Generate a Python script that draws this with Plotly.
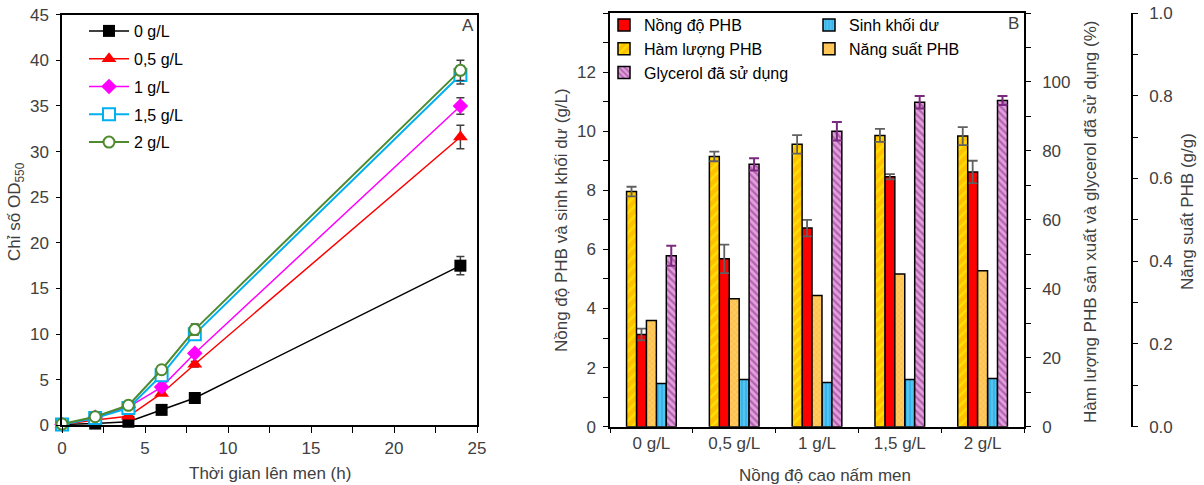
import plotly.graph_objects as go

# ---------------- Panel A data ----------------
time_h = [0, 2, 4, 6, 8, 24]
series_names = ["0 g/L", "0,5 g/L", "1 g/L", "1,5 g/L", "2 g/L"]
od_0 = [0.1, 0.2, 0.4, 1.7, 3.0, 17.5]
od_05 = [0.1, 0.6, 1.0, 3.5, 6.7, 31.6]
od_1 = [0.1, 0.9, 2.0, 4.2, 7.9, 35.0]
od_15 = [0.1, 0.8, 1.9, 5.5, 10.0, 38.4]
od_2 = [0.15, 0.95, 2.2, 6.1, 10.5, 38.9]
err_0 = [0, 0, 0, 0.1, 0.1, 1.0]
err_05 = [0, 0, 0.1, 0.2, 0.3, 1.3]
err_1 = [0, 0, 0.1, 0.2, 0.3, 0.9]
err_15 = [0, 0, 0.1, 0.3, 0.6, 1.0]
err_2 = [0, 0, 0.1, 0.2, 0.6, 1.1]

# ---------------- Panel B data ----------------
groups = ["0 g/L", "0,5 g/L", "1 g/L", "1,5 g/L", "2 g/L"]
phb_conc = [3.12, 5.68, 6.72, 8.46, 8.62]          # g/L
phb_conc_err = [0.2, 0.48, 0.28, 0.09, 0.38]
biomass = [1.46, 1.60, 1.50, 1.60, 1.63]           # g/L
phb_content = [68.2, 78.4, 81.9, 84.5, 84.3]       # %
phb_content_err = [1.4, 1.4, 2.7, 1.9, 2.6]
phb_yield = [0.257, 0.309, 0.317, 0.369, 0.377]    # g/g
glycerol = [49.6, 76.1, 85.7, 94.1, 94.6]          # %
glycerol_err = [2.9, 1.8, 2.7, 1.8, 1.3]

y2_ticks = [0, 2, 4, 6, 8, 10, 12]
y3_ticks = [0, 20, 40, 60, 80, 100]
y4_ticks = [0.0, 0.2, 0.4, 0.6, 0.8, 1.0]

W, H = 1204, 485
FONT = "Liberation Sans, Arial, sans-serif"
TXT = "#404040"

def px(x):
    return x / W

def py(y):
    return (H - y) / H

fig = go.Figure()

# ---------- Panel A traces ----------
styles = [
    dict(color="black", symbol="square", fill="black", lw=1.5, ms=12),
    dict(color="#FF0000", symbol="triangle-up", fill="#FF0000", lw=1.5, ms=13),
    dict(color="#FF00FF", symbol="diamond", fill="#FF00FF", lw=1.5, ms=12),
    dict(color="#00B0F0", symbol="square", fill="white", lw=2, ms=12),
    dict(color="#4E8A2E", symbol="circle", fill="white", lw=2, ms=11),
]
ys = [od_0, od_05, od_1, od_15, od_2]
errs = [err_0, err_05, err_1, err_15, err_2]
for i, (name, y, e, s) in enumerate(zip(series_names, ys, errs, styles)):
    marker = dict(symbol=s["symbol"], size=s["ms"], color=s["fill"],
                  line=dict(color=s["color"], width=2 if s["fill"] == "white" else 0))
    fig.add_trace(go.Scatter(
        x=time_h, y=y, name=name, mode="lines+markers",
        line=dict(color=s["color"], width=s["lw"]),
        marker=marker,
        error_y=dict(type="data", array=e, color="#404040", thickness=1.5, width=4),
        xaxis="x", yaxis="y", legend="legend", legendgroup=f"g{i}",
        cliponaxis=False,
    ))

# ---------- Panel B traces ----------
bw = 0.12
bar_line = dict(color="black", width=1.5)
fig.add_trace(go.Bar(
    x=groups, y=phb_content, name="Hàm lượng PHB", xaxis="x2", yaxis="y3",
    width=bw, offset=-0.30,
    marker=dict(color="#FFC000", line=bar_line,
                pattern=dict(shape="/", fgcolor="#FFFF00", bgcolor="#FFC000", size=7, solidity=0.35)),
    error_y=dict(type="data", array=phb_content_err, color="#606060", thickness=1.8, width=5),
    legend="legend2", legendrank=2,
))
fig.add_trace(go.Bar(
    x=groups, y=phb_conc, name="Nồng độ PHB", xaxis="x2", yaxis="y2",
    width=bw, offset=-0.18,
    marker=dict(color="#FF0000", line=bar_line),
    error_y=dict(type="data", array=phb_conc_err, color="#606060", thickness=1.8, width=5),
    legend="legend2", legendrank=1,
))
fig.add_trace(go.Bar(
    x=groups, y=phb_yield, name="Năng suất PHB", xaxis="x2", yaxis="y4",
    width=bw, offset=-0.06,
    marker=dict(color="#FFC24D", line=bar_line,
                pattern=dict(shape="x", fgcolor="#FFE7B3", bgcolor="#FFC24D", size=4, solidity=0.3)),
    legend="legend3", legendrank=2,
))
fig.add_trace(go.Bar(
    x=groups, y=biomass, name="Sinh khối dư", xaxis="x2", yaxis="y2",
    width=bw, offset=0.06,
    marker=dict(color="#38B6EC", line=bar_line,
                pattern=dict(shape="|", fgcolor="#9BDDF7", bgcolor="#38B6EC", size=4, solidity=0.3)),
    legend="legend3", legendrank=1,
))
fig.add_trace(go.Bar(
    x=groups, y=glycerol, name="Glycerol đã sử dụng", xaxis="x2", yaxis="y3",
    width=bw, offset=0.18,
    marker=dict(color="#E59EDD", line=bar_line,
                pattern=dict(shape="\\", fgcolor="#7A2A7E", bgcolor="#E59EDD", size=5, solidity=0.45)),
    error_y=dict(type="data", array=glycerol_err, color="#7A2A7E", thickness=2, width=5),
    legend="legend2", legendrank=3,
))

axis_common = dict(showline=True, linecolor="black", linewidth=1.5, showgrid=False,
                   zeroline=False, ticks="outside", tickcolor="black", automargin=False,
                   tickfont=dict(family=FONT, size=17, color=TXT))

fig.update_layout(
    width=W, height=H, margin=dict(l=0, r=0, t=0, b=0, autoexpand=False),
    paper_bgcolor="white", plot_bgcolor="white",
    barmode="overlay",
    font=dict(family=FONT, size=17, color=TXT),
    xaxis=dict(domain=[px(62), px(477)], range=[0, 25], dtick=5, ticklen=6,
               mirror=True, anchor="y",
               minor=dict(dtick=2.5, ticks="outside", ticklen=6, tickcolor="black"),
               **axis_common),
    yaxis=dict(domain=[py(425.4), py(14.7)], range=[0, 45], dtick=5, ticklen=4,
               mirror=True, anchor="x", ticklabelstandoff=4, **axis_common),
    xaxis2=dict(domain=[px(610), px(1024)], type="category", range=[-0.5, 4.5],
                tickson="boundaries", ticklen=5, mirror=True, anchor="y2",
                **axis_common),
    yaxis2=dict(domain=[py(426.7), py(13)], range=[0, 14], tickmode="array",
                tickvals=y2_ticks, ticklen=5,
                anchor="x2", ticklabelstandoff=4,
                minor=dict(dtick=1, ticks="outside", ticklen=5, tickcolor="black"),
                **axis_common),
    yaxis3=dict(range=[0, 120], tickmode="array", tickvals=y3_ticks, ticklen=5,
                overlaying="y2", side="right",
                anchor="x2", ticklabelstandoff=8,
                minor=dict(dtick=10, ticks="outside", ticklen=5, tickcolor="black"),
                **axis_common),
    yaxis4=dict(range=[0, 1], tickmode="array", tickvals=y4_ticks, tickformat=".1f",
                ticklen=5, overlaying="y2",
                side="right", anchor="free", position=px(1132), ticklabelstandoff=8,
                minor=dict(dtick=0.1, ticks="outside", ticklen=5, tickcolor="black"),
                **axis_common),
    legend=dict(x=px(84), y=py(14), xanchor="left", yanchor="top",
                bgcolor="rgba(0,0,0,0)", traceorder="grouped", tracegroupgap=4,
                font=dict(family=FONT, size=16, color="black"), itemwidth=40),
    legend2=dict(x=px(604), y=py(8), xanchor="left", yanchor="top",
                 bgcolor="rgba(0,0,0,0)", traceorder="normal",
                 font=dict(family=FONT, size=16, color="black"), itemwidth=30),
    legend3=dict(x=px(809), y=py(8), xanchor="left", yanchor="top",
                 bgcolor="rgba(0,0,0,0)", traceorder="normal",
                 font=dict(family=FONT, size=16, color="black"), itemwidth=30),
    showlegend=True,
)

ann = [
    dict(text="A", x=px(468), y=py(25)),
    dict(text="B", x=px(1013), y=py(23)),
    dict(text="Thời gian lên men (h)", x=px(270), y=py(473)),
    dict(text="Nồng độ cao nấm men", x=px(825), y=py(475)),
    dict(text="Chỉ số OD<sub>550</sub>", x=px(16), y=py(212), textangle=-90),
    dict(text="Nồng độ PHB và sinh khối dư (g/L)", x=px(561), y=py(220), textangle=-90),
    dict(text="Hàm lượng PHB sản xuất và glycerol đã sử dụng (%)", x=px(1090), y=py(222), textangle=-90),
    dict(text="Năng suất PHB (g/g)", x=px(1187), y=py(212), textangle=-90),
]
for a in ann:
    fig.add_annotation(xref="paper", yref="paper", showarrow=False,
                       xanchor="center", yanchor="middle",
                       font=dict(family=FONT, size=17, color=TXT), **a)

fig.write_html("out.html", config={"displayModeBar": False},
               post_script="document.body.style.margin='0';document.body.style.padding='0';")
